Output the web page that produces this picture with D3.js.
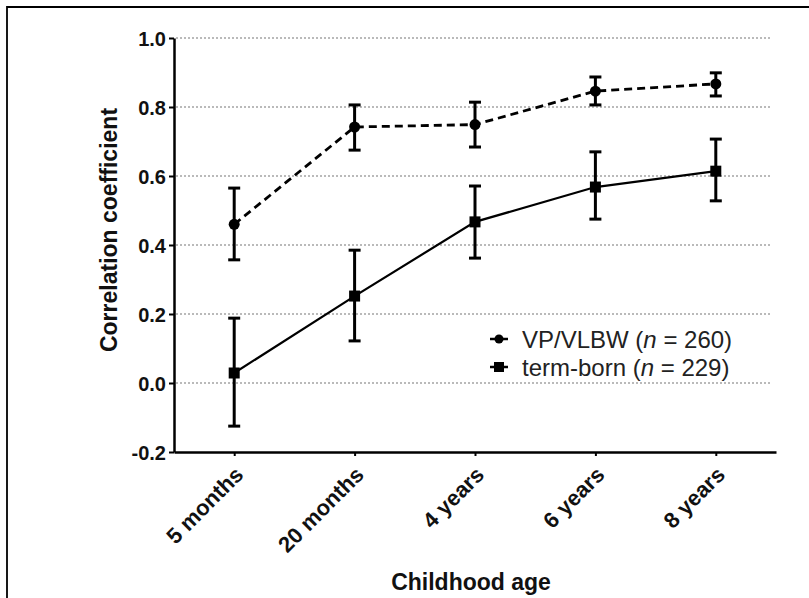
<!DOCTYPE html>
<html>
<head>
<meta charset="utf-8">
<script src="https://cdn.jsdelivr.net/npm/d3@7"></script>
<style>
  body { margin: 0; background: #fff; }
  svg { font-family: "Liberation Sans", Arial, sans-serif; }
</style>
</head>
<body>
<div id="chart"></div>
<script>
// data
var ages = ["5 months", "20 months", "4 years", "6 years", "8 years"];
var vpMean = [0.46, 0.742, 0.749, 0.846, 0.867];
var vpLow  = [0.357, 0.675, 0.684, 0.806, 0.832];
var vpHigh = [0.565, 0.806, 0.814, 0.887, 0.899];
var termMean = [0.029, 0.252, 0.467, 0.568, 0.614];
var termLow  = [-0.125, 0.122, 0.362, 0.475, 0.528];
var termHigh = [0.188, 0.385, 0.571, 0.670, 0.707];
var yTicks = [-0.2, 0.0, 0.2, 0.4, 0.6, 0.8, 1.0];
var gridTicks = [0.0, 0.2, 0.4, 0.6, 0.8, 1.0];

var width = 809, height = 598;

var svg = d3.select("#chart").append("svg")
  .attr("width", width)
  .attr("height", height);

// frame (only top + left visible in the crop)
svg.append("path")
  .attr("d", "M7," + height + "V7H" + width)
  .attr("fill", "none")
  .attr("stroke", "#000")
  .attr("stroke-width", 1.8);

var x = d3.scalePoint().domain(ages).range([174, 776]).padding(0.5);
var y = d3.scaleLinear().domain([-0.2, 1.0]).range([452, 38]);

// grid
svg.selectAll("line.grid")
  .data(gridTicks)
  .enter().append("line")
  .attr("class", "grid")
  .attr("x1", 176).attr("x2", 771)
  .attr("y1", function(d) { return y(d); })
  .attr("y2", function(d) { return y(d); })
  .attr("stroke", "#777")
  .attr("stroke-width", 1.2)
  .attr("stroke-dasharray", "2,2");

// axes
var fmt = function(d) { return d.toFixed(1); }; // plain hyphen for -0.2
var yAxis = svg.append("g")
  .attr("transform", "translate(174,0)")
  .call(d3.axisLeft(y).tickValues(yTicks).tickFormat(fmt).tickSize(5).tickSizeOuter(0));
var xAxis = svg.append("g")
  .attr("transform", "translate(0,452)")
  .call(d3.axisBottom(x).tickSize(4).tickSizeOuter(0));

[yAxis, xAxis].forEach(function(a) {
  a.select(".domain").attr("stroke-width", 2.5);
  a.selectAll(".tick line").attr("stroke-width", 2);
  a.selectAll("text")
    .attr("font-family", "Liberation Sans, Arial, sans-serif")
    .attr("font-weight", "bold")
    .attr("fill", "#111");
});
yAxis.selectAll("text").attr("font-size", 20).attr("x", -8).attr("dy", "0.36em");
xAxis.selectAll("text")
  .attr("font-size", 22)
  .attr("text-anchor", "end")
  .attr("x", 0).attr("y", 0)
  .attr("dy", "0")
  .attr("transform", "translate(10,24) rotate(-45)");

// axis titles
svg.append("text")
  .attr("transform", "translate(117,230) rotate(-90)")
  .attr("text-anchor", "middle")
  .attr("font-size", 23)
  .attr("font-weight", "bold")
  .attr("fill", "#111")
  .text("Correlation coefficient");

svg.append("text")
  .attr("x", 471).attr("y", 590)
  .attr("text-anchor", "middle")
  .attr("font-size", 23)
  .attr("font-weight", "bold")
  .attr("fill", "#111")
  .text("Childhood age");

function build(mean, low, high) {
  return ages.map(function(a, i) {
    return { age: a, m: mean[i], lo: low[i], hi: high[i] };
  });
}
var vp = build(vpMean, vpLow, vpHigh);
var term = build(termMean, termLow, termHigh);

var line = d3.line()
  .x(function(d) { return x(d.age); })
  .y(function(d) { return y(d.m); });

svg.append("path").datum(vp)
  .attr("d", line)
  .attr("fill", "none")
  .attr("stroke", "#000")
  .attr("stroke-width", 2.8)
  .attr("stroke-dasharray", "8,5");

svg.append("path").datum(term)
  .attr("d", line)
  .attr("fill", "none")
  .attr("stroke", "#000")
  .attr("stroke-width", 2.2);

function errorBars(data) {
  var g = svg.append("g").attr("stroke", "#000").attr("stroke-width", 3);
  var bars = g.selectAll("g").data(data).enter().append("g");
  bars.append("line")
    .attr("x1", function(d) { return x(d.age); })
    .attr("x2", function(d) { return x(d.age); })
    .attr("y1", function(d) { return y(d.lo); })
    .attr("y2", function(d) { return y(d.hi); });
  bars.append("line")
    .attr("x1", function(d) { return x(d.age) - 6; })
    .attr("x2", function(d) { return x(d.age) + 6; })
    .attr("y1", function(d) { return y(d.hi); })
    .attr("y2", function(d) { return y(d.hi); });
  bars.append("line")
    .attr("x1", function(d) { return x(d.age) - 6; })
    .attr("x2", function(d) { return x(d.age) + 6; })
    .attr("y1", function(d) { return y(d.lo); })
    .attr("y2", function(d) { return y(d.lo); });
}
errorBars(vp);
errorBars(term);

svg.selectAll("circle.vp")
  .data(vp)
  .enter().append("circle")
  .attr("class", "vp")
  .attr("cx", function(d) { return x(d.age); })
  .attr("cy", function(d) { return y(d.m); })
  .attr("r", 5.5)
  .attr("fill", "#000");

svg.selectAll("rect.term")
  .data(term)
  .enter().append("rect")
  .attr("class", "term")
  .attr("x", function(d) { return x(d.age) - 5.5; })
  .attr("y", function(d) { return y(d.m) - 5.5; })
  .attr("width", 11)
  .attr("height", 11)
  .attr("fill", "#000");

// legend
var legend = svg.append("g").attr("transform", "translate(499,0)");
var l1 = legend.append("g").attr("transform", "translate(0,339)");
l1.append("line").attr("x1", -9).attr("x2", 9).attr("stroke", "#000").attr("stroke-width", 2.5);
l1.append("circle").attr("r", 4.5).attr("fill", "#000");
var t1 = l1.append("text").attr("x", 23).attr("dy", "0.36em").attr("font-size", 24).attr("fill", "#222");
t1.append("tspan").text("VP/VLBW (");
t1.append("tspan").attr("font-style", "italic").text("n");
t1.append("tspan").text(" = 260)");

var l2 = legend.append("g").attr("transform", "translate(0,367)");
l2.append("line").attr("x1", -9).attr("x2", 9).attr("stroke", "#000").attr("stroke-width", 2.5);
l2.append("rect").attr("x", -5).attr("y", -5).attr("width", 10).attr("height", 10).attr("fill", "#000");
var t2 = l2.append("text").attr("x", 23).attr("dy", "0.36em").attr("font-size", 24).attr("fill", "#222");
t2.append("tspan").text("term-born (");
t2.append("tspan").attr("font-style", "italic").text("n");
t2.append("tspan").text(" = 229)");
</script>
</body>
</html>
